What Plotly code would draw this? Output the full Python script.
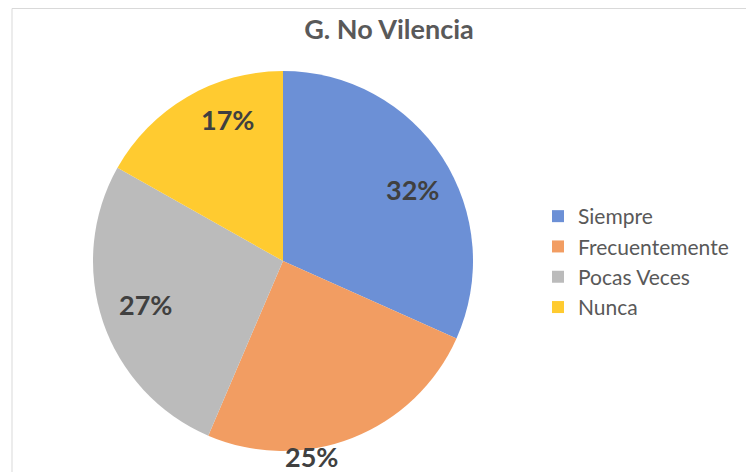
import math
import plotly.graph_objects as go

# Datos
categorias = ["Siempre", "Frecuentemente", "Pocas Veces", "Nunca"]
porcentajes = [32, 25, 27, 17]
colores = ["#6C90D6", "#F29D62", "#BBBBBB", "#FFCB30"]

W, H = 754, 472
OFF = 8  # margen por defecto del <body> de la página

def px_x(x):
    return (x - OFF) / W

def px_y(y):
    return 1 - (y - OFF) / H

# centro y radio del pastel en píxeles de la imagen
cx, cy, r = 283, 261, 190
# colocación de etiquetas estilo Excel: fracción del radio y giro respecto al punto medio
dist_etiqueta = [0.78, 1.04, 0.76, 0.80]
giro_etiqueta = [4, 13, 1, 9]

fig = go.Figure(
    go.Pie(
        labels=categorias,
        values=porcentajes,
        sort=False,
        direction="clockwise",
        rotation=0,
        marker=dict(colors=colores, line=dict(color="white", width=0)),
        textinfo="none",
        domain=dict(x=[px_x(cx - r), px_x(cx + r)], y=[px_y(cy + r), px_y(cy - r)]),
        hoverinfo="label+percent",
    )
)

# etiquetas de porcentaje alrededor del punto medio angular de cada sector
total = sum(porcentajes)
acum = 0
for valor, f, g in zip(porcentajes, dist_etiqueta, giro_etiqueta):
    ang = 2 * math.pi * (acum + valor / 2) / total + math.radians(g)
    acum += valor
    fig.add_annotation(
        x=px_x(cx + f * r * math.sin(ang)), y=px_y(cy - f * r * math.cos(ang)),
        xref="paper", yref="paper", xanchor="center", yanchor="middle",
        text=f"{valor}%", showarrow=False,
        font=dict(family="Lato", size=27, color="#404040", weight="bold"),
    )

# marco del área del gráfico
fig.add_shape(
    type="rect", xref="paper", yref="paper",
    x0=px_x(12), x1=1.02, y0=-0.02, y1=1 - 0.5 / H,
    line=dict(color="#D9D9D9", width=1),
)

fig.update_layout(
    width=W, height=H,
    margin=dict(l=0, r=0, t=0, b=0),
    paper_bgcolor="white",
    title=dict(
        text="G. No Vilencia",
        x=px_x(389), xanchor="center",
        y=px_y(30), yanchor="middle",
        font=dict(family="Lato", size=27, color="#595959", weight="bold"),
    ),
    legend=dict(
        x=px_x(538), xanchor="left",
        y=px_y(196), yanchor="top",
        font=dict(family="Lato", size=21, color="#595959"),
        itemwidth=30,
        bgcolor="rgba(0,0,0,0)",
    ),
    showlegend=True,
)

fig.write_html("out.html")
